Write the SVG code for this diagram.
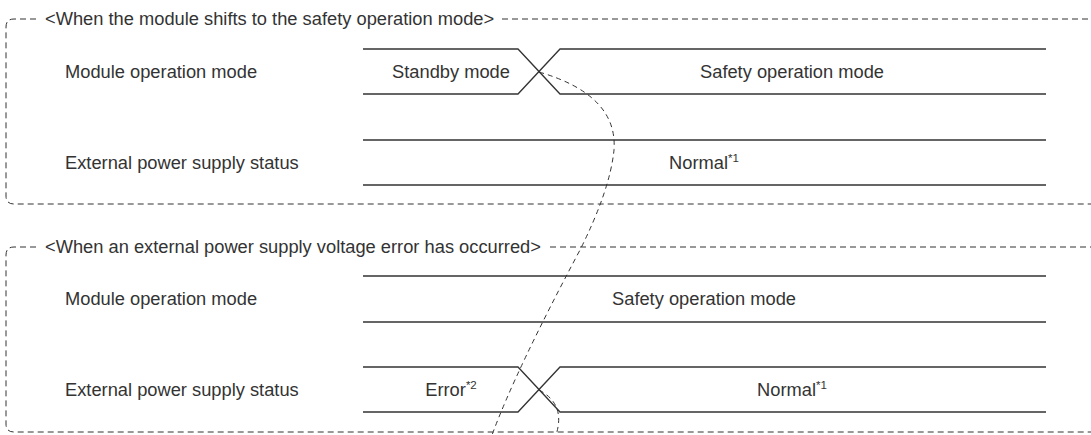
<svg xmlns="http://www.w3.org/2000/svg" width="1091" height="435" viewBox="0 0 1091 435">
<style>
.bg{fill:#ffffff}
.frame{fill:none;stroke:#333;stroke-width:1;stroke-dasharray:6 4}
.wave{fill:none;stroke:#333;stroke-width:1.3}
.conn{fill:none;stroke:#333;stroke-width:1;stroke-dasharray:5 4}
text{font-family:"Liberation Sans",Arial,sans-serif;font-size:18.3px;fill:#333}
.mid{text-anchor:middle}
.sup{font-size:11.5px}
</style>
<rect class="bg" x="0" y="0" width="1091" height="435"/>
<g id="frame-shift">
<path class="frame" d="M36,19 H14 Q6,19 6,27 V196 Q6,204 14,204 H1091"/>
<path class="frame" d="M502,19 H1091"/>
<text x="45" y="25">&lt;When the module shifts to the safety operation mode&gt;</text>
</g>
<g id="shift-module-mode">
<text x="65" y="78">Module operation mode</text>
<path class="wave" d="M363,49 H518 L560,94 H1046 M363,94 H518 L560,49 H1046"/>
<text class="mid" x="451" y="78">Standby mode</text>
<text class="mid" x="792" y="78">Safety operation mode</text>
</g>
<g id="shift-power-status">
<text x="65" y="169">External power supply status</text>
<path class="wave" d="M363,140 H1046 M363,185 H1046"/>
<text class="mid" x="704" y="169">Normal<tspan class="sup" dy="-7">*1</tspan></text>
</g>
<g id="frame-error">
<path class="frame" d="M36,247 H14 Q6,247 6,255 V424 Q6,432 14,432 H1091"/>
<path class="frame" d="M550,247 H1091"/>
<text x="45" y="253">&lt;When an external power supply voltage error has occurred&gt;</text>
</g>
<g id="error-module-mode">
<text x="65" y="305">Module operation mode</text>
<path class="wave" d="M363,276 H1046 M363,322 H1046"/>
<text class="mid" x="704" y="305">Safety operation mode</text>
</g>
<g id="error-power-status">
<text x="65" y="396">External power supply status</text>
<path class="wave" d="M363,367 H518 L560,412 H1046 M363,412 H518 L560,367 H1046"/>
<text class="mid" x="451" y="396">Error<tspan class="sup" dy="-7">*2</tspan></text>
<text class="mid" x="792" y="396">Normal<tspan class="sup" dy="-7">*1</tspan></text>
</g>
<g id="connectors">
<path class="conn" d="M539,72 Q618,95 614,150 Q610,190 580,250 Q516,370 492,435"/>
<path class="conn" d="M539,390 Q566,404 556,435"/>
</g>
</svg>
